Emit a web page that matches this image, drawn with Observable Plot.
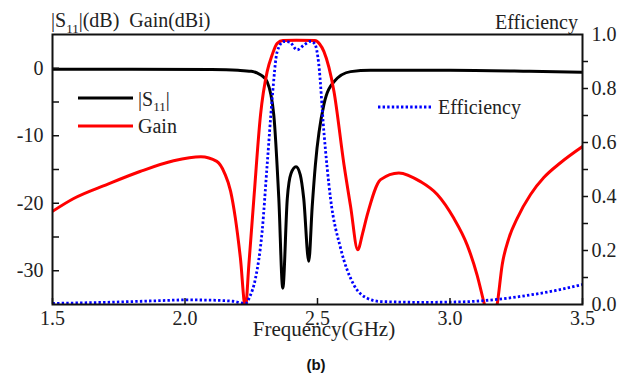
<!DOCTYPE html>
<html><head><meta charset="utf-8">
<script src="https://cdn.jsdelivr.net/npm/d3@7"></script>
<script src="https://cdn.jsdelivr.net/npm/@observablehq/plot@0.6"></script>
<style>
body{margin:0;background:#fff;}
#chart{position:relative;width:620px;height:373px;}
#cap{position:absolute;left:296px;top:356px;width:40px;text-align:center;font:bold 15px "Liberation Sans",Arial,sans-serif;line-height:18px;color:#111;}
</style></head><body>
<div id="chart"><div id="cap">(b)</div></div>
<script>
// ---- data ----
const s11Freq = [1.5, 1.8, 2.1, 2.2, 2.25, 2.272, 2.29, 2.31, 2.335, 2.354, 2.369, 2.386, 2.4, 2.419, 2.435, 2.448, 2.467, 2.48, 2.492, 2.524, 2.562, 2.625, 2.7, 3.0, 3.3, 3.5];
const s11Db   = [-0.15, -0.15, -0.2, -0.3, -0.45, -0.7, -1.1, -2.0, -6.9, -19.3, -32.6, -19.3, -15.6, -14.6, -15.8, -19.3, -28.6, -20.5, -14.3, -5.4, -2.0, -0.5, -0.3, -0.3, -0.45, -0.6];

const gainFreq = [1.5, 1.58, 1.707, 1.83, 1.957, 2.06, 2.12, 2.15, 2.172, 2.19, 2.209, 2.228, 2.241, 2.26, 2.285, 2.31, 2.329, 2.348, 2.37, 2.42, 2.49, 2.508, 2.524, 2.562, 2.6, 2.625, 2.652, 2.67, 2.688, 2.738, 2.807, 2.889, 2.952, 3.014, 3.065, 3.102, 3.13, 3.154, 3.178, 3.197, 3.222, 3.254, 3.304, 3.354, 3.417, 3.5];
const gainDbi  = [-21.2, -19.3, -17.2, -15.3, -13.7, -13.1, -13.8, -15.6, -18.2, -22.2, -28.1, -35.5, -29.1, -19.25, -6.9, -0.5, 2.0, 3.7, 4.1, 4.15, 4.1, 3.6, 2.5, -3.4, -14.3, -20.5, -26.9, -24.5, -21.7, -16.5, -15.5, -16.8, -18.7, -22.2, -26.2, -30.6, -35, -38.5, -35, -29.1, -25.2, -22.2, -18.7, -16.2, -14.0, -11.6];

const effFreq = [1.5, 1.7, 1.9, 2.0, 2.1, 2.18, 2.228, 2.245, 2.266, 2.291, 2.31, 2.329, 2.348, 2.373, 2.395, 2.423, 2.45, 2.475, 2.49, 2.505, 2.524, 2.549, 2.587, 2.637, 2.688, 2.738, 2.9, 3.05, 3.178, 3.3, 3.4, 3.5];
const effVal  = [0.004, 0.008, 0.014, 0.017, 0.016, 0.012, 0.004, 0.03, 0.097, 0.27, 0.517, 0.764, 0.937, 0.974, 0.972, 0.943, 0.962, 0.975, 0.965, 0.888, 0.641, 0.394, 0.209, 0.073, 0.023, 0.011, 0.008, 0.01, 0.019, 0.035, 0.052, 0.074];

const xTicks = [1.5, 2.0, 2.5, 3.0, 3.5];
const dbTicks = [0, -10, -20, -30];
const dbMinorTicks = [0, -5, -10, -15, -20, -25, -30];
const effTicks = [0, 0.2, 0.4, 0.6, 0.8, 1.0];
const effMinorTicks = [0.1, 0.2, 0.3, 0.4, 0.5, 0.6, 0.7, 0.8, 0.9];

// ---- tables ----
const s11 = s11Freq.map((f, i) => ({f, v: s11Db[i]}));
const gain = gainFreq.map((f, i) => ({f, v: gainDbi[i]}));
const yMin = -35, yMax = 5;
const effToDb = e => yMin + (yMax - yMin) * e;
const dbToEff = d => (d - yMin) / (yMax - yMin);
const eff = effFreq.map((f, i) => ({f, v: effToDb(effVal[i])}));

const serif = '"Liberation Serif","Times New Roman",serif';
const blank = () => "";
const dots = "2.4 2.2";

const svg = Plot.plot({
  width: 620, height: 350,
  marginLeft: 52, marginRight: 38, marginTop: 34, marginBottom: 46,
  style: {fontFamily: serif, fontSize: "20px", color: "#222", background: "#fff"},
  x: {domain: [1.5, 3.5], axis: null},
  y: {domain: [yMin, yMax], axis: null},
  marks: [
    Plot.line(s11, {x: "f", y: "v", stroke: "#000", strokeWidth: 3, curve: "monotone-x", clip: true}),
    Plot.line(gain, {x: "f", y: "v", stroke: "#ff0000", strokeWidth: 3, curve: "monotone-x", clip: true}),
    Plot.line(eff, {x: "f", y: "v", stroke: "#0000ff", strokeWidth: 2.8, strokeDasharray: dots, strokeLinecap: "butt", curve: "monotone-x", clip: true}),
    Plot.frame({stroke: "#111", strokeWidth: 2}),
    Plot.axisY(dbMinorTicks, {anchor: "left", tickSize: -7, tickFormat: blank, label: null, strokeWidth: 1.5, stroke: "#111"}),
    Plot.axisY(dbTicks, {anchor: "left", tickSize: 0, tickPadding: 9, tickFormat: d => String(d), label: null, fill: "#222"}),
    Plot.axisY(effMinorTicks.map(effToDb), {anchor: "right", tickSize: 5, tickFormat: blank, label: null, strokeWidth: 1.5, stroke: "#111"}),
    Plot.axisY(effTicks.map(effToDb), {anchor: "right", tickSize: 0, tickPadding: 9, tickFormat: d => dbToEff(d).toFixed(1), label: null, fill: "#222"}),
    Plot.axisX(xTicks, {anchor: "bottom", tickSize: -6, tickFormat: blank, label: null, strokeWidth: 1.5, stroke: "#111"}),
    Plot.axisX(xTicks, {anchor: "bottom", tickSize: 0, tickPadding: 6, tickFormat: d => d.toFixed(1), label: null, fill: "#222"})
  ]
});

const root = d3.select(svg);
const addText = (x, y, anchor, size) => root.append("text").attr("x", x).attr("y", y)
  .attr("text-anchor", anchor).attr("font-family", serif).attr("font-size", size)
  .attr("fill", "#222").style("white-space", "pre");
// titles
const t1 = addText(51, 27, "start", 20);
t1.append("tspan").text("|S");
t1.append("tspan").attr("dy", 6).attr("font-size", 13).text("11");
t1.append("tspan").attr("dy", -6).text("|(dB)  Gain(dBi)");
addText(578, 29, "end", 20).text("Efficiency");
// x axis label
addText(324, 336, "middle", 21).text("Frequency(GHz)");

// legend
const legend = [
  {label: "S11", color: "#000", dash: null, w: 3, x: 78, y: 98, ty: 106},
  {label: "Gain", color: "#ff0000", dash: null, w: 3, x: 78, y: 126, ty: 133},
  {label: "Efficiency", color: "#0000ff", dash: dots, w: 2.8, x: 378, y: 107, ty: 114}
];
for (const L of legend) {
  const ln = root.append("line").attr("x1", L.x).attr("x2", L.x + 55).attr("y1", L.y).attr("y2", L.y)
    .attr("stroke", L.color).attr("stroke-width", L.w);
  if (L.dash) ln.attr("stroke-dasharray", L.dash);
  const tx = addText(L.x + 60, L.ty, "start", 20);
  if (L.label === "S11") {
    tx.append("tspan").text("|S");
    tx.append("tspan").attr("dy", 5).attr("font-size", 13).text("11");
    tx.append("tspan").attr("dy", -5).text("|");
  } else {
    tx.text(L.label);
  }
}

document.getElementById("chart").prepend(svg);
</script>
</body></html>
